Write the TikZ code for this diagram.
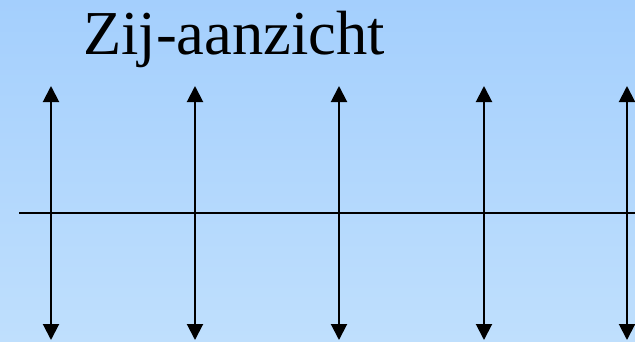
\documentclass[tikz,border=0pt]{standalone}
\usepackage{fontspec}
\setmainfont{Liberation Serif}
\usetikzlibrary{arrows.meta}
\definecolor{bgtop}{RGB}{164,207,253}
\definecolor{bgbot}{RGB}{191,223,253}
\begin{document}
\begin{tikzpicture}[x=1pt,y=-1pt,
  rod/.style={line width=2pt, {Triangle[width=16pt,length=16pt]}-{Triangle[width=16pt,length=16pt]}},
  axisline/.style={line width=2pt}]
\fill[top color=bgtop,bottom color=bgbot] (0,0) rectangle (635,341);
\useasboundingbox (0,0) rectangle (635,341);
\node[anchor=base west, inner sep=0pt, font=\fontsize{62.5}{62.5}\selectfont] (title) at (83,54) {Zij-aanzicht};
\coordinate (hl) at (19,213);
\coordinate (hr) at (640,213);
\draw[axisline] (hl) -- (hr);
\foreach \i/\x in {1/51,2/195,3/339,4/484,5/627}{
  \coordinate (t\i) at (\x,86);
  \coordinate (b\i) at (\x,340);
  \draw[rod] (t\i) -- (b\i);
}
\end{tikzpicture}
\end{document}
